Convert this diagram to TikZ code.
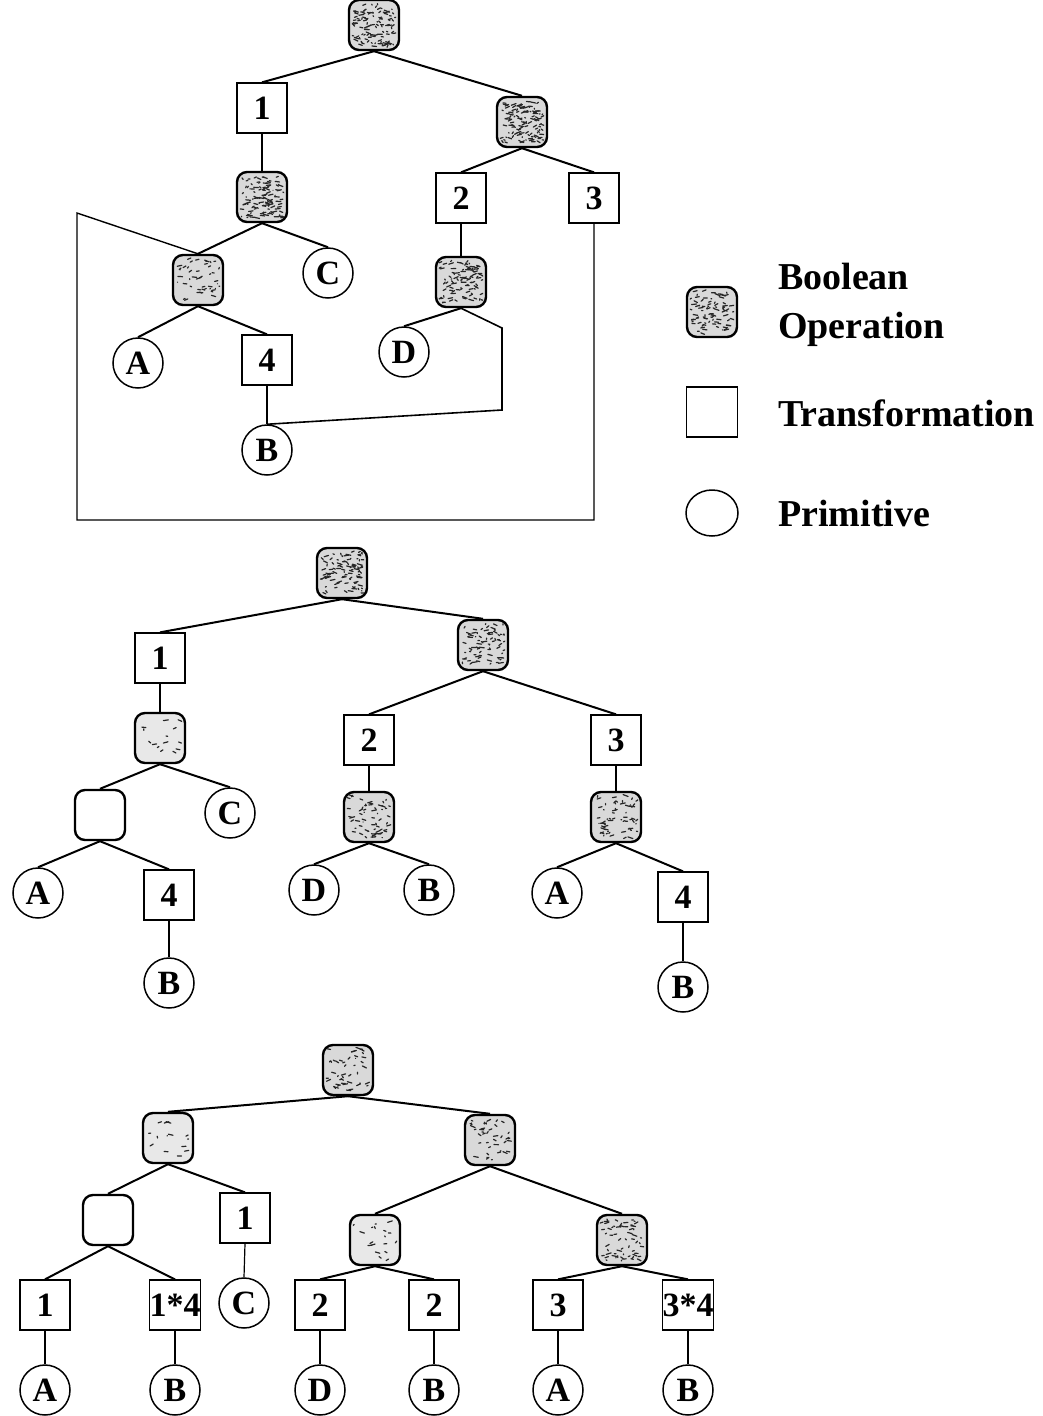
\documentclass[tikz,border=0pt]{standalone}
\usepackage{fontspec}
\setmainfont{Liberation Serif}
\usetikzlibrary{calc,shapes.geometric}

% stippled texture inside a boolean-operation box
\newcommand\speckle[2]{%
  \begin{scope}
    \clip ($(#1.south west)+(4pt,4pt)$) rectangle ($(#1.north east)+(-4pt,-4pt)$);
    \foreach \k in {1,...,#2}
      \draw[line width=1.2pt, black!85, line cap=round]
        ($(#1.center)+(rand*21pt,rand*21pt)$) -- ++(rand*5pt,rand*2pt);
  \end{scope}}

\tikzset{
  lbl/.style={font=\fontsize{34}{34}\selectfont\bfseries},
  boolop/.style={draw, line width=2.4pt, rounded corners=10pt, minimum width=50pt,
                 minimum height=50pt, inner sep=0pt, fill=gray!30},
  boolw/.style={boolop, fill=white},
  xform/.style={draw, line width=1.3pt, minimum width=50pt, minimum height=50pt,
                inner sep=0pt, lbl},
  prim/.style={draw, circle, line width=1.5pt, minimum size=50pt, inner sep=0pt, lbl},
  edge/.style={line width=2pt},
  stem/.style={line width=1.2pt},
  legendtext/.style={font=\fontsize{38}{49}\selectfont\bfseries, anchor=west, align=left, inner sep=0pt}
}

\begin{document}
\begin{tikzpicture}[x=1pt,y=-1pt]
\pgfmathsetseed{11}
\useasboundingbox (0,0) rectangle (1043,1416);

% ---------- first tree (shared subtrees) ----------
\node[boolop] (aR)  at (374,25)  {};
\node[xform]  (a1)  at (262,108) {1};
\node[boolop] (aB2) at (522,122) {};
\node[boolop] (aB3) at (262,197) {};
\node[xform]  (a2)  at (461,198) {2};
\node[xform]  (a3)  at (594,198) {3};
\node[boolop] (aB4) at (198,280) {};
\node[prim]   (aC)  at (328,273) {C};
\node[boolop] (aB5) at (461,282) {};
\node[prim]   (aA)  at (138,363) {A};
\node[xform]  (a4)  at (267,360) {4};
\node[prim]   (aD)  at (404,352) {D};
\node[prim]   (aBp) at (267,450) {B};
\coordinate (k1) at (502,328);
\coordinate (k2) at (502,410);
\coordinate (m1) at (594,520);
\coordinate (m2) at (77,520);
\coordinate (m3) at (77,213);

\speckle{aR}{110}\speckle{aB2}{120}\speckle{aB3}{110}\speckle{aB4}{45}\speckle{aB5}{95}

\draw[edge] (aR.south) -- (a1.north);
\draw[edge] (aR.south) -- (aB2.north);
\draw[stem] (a1.south) -- (aB3.north);
\draw[edge] (aB2.south) -- (a2.north);
\draw[edge] (aB2.south) -- (a3.north);
\draw[stem] (a2.south) -- (aB5.north);
\draw[edge] (aB3.south) -- (aB4.north);
\draw[edge] (aB3.south) -- (aC.north);
\draw[edge] (aB4.south) -- (aA.north);
\draw[edge] (aB4.south) -- (a4.north);
\draw[stem] (a4.south) -- (aBp.north);
\draw[edge] (aB5.south) -- (aD.north);
\draw[line width=1.6pt] (aB5.south) -- (k1) -- (k2) -- (aBp.north);
\draw[line width=1.4pt] (a3.south) -- (m1) -- (m2) -- (m3) -- (aB4.north);

% ---------- legend ----------
\node[boolop] (lgB) at (712,312) {};
\speckle{lgB}{85}
\node[legendtext] (lgBt) at (778,305) {Boolean\\Operation};
\node[draw, line width=1.3pt, minimum width=51pt, minimum height=50pt, inner sep=0pt] (lgT) at (712,412) {};
\node[legendtext] (lgTt) at (778,413) {Transformation};
\node[draw, ellipse, line width=1.5pt, minimum width=52pt, minimum height=46pt, inner sep=0pt] (lgP) at (712,513) {};
\node[legendtext] (lgPt) at (778,513) {Primitive};

% ---------- second tree (copied subtrees) ----------
\node[boolop] (bR)  at (342,573) {};
\node[xform]  (b1)  at (160,658) {1};
\node[boolop] (bB2) at (483,645) {};
\node[boolop, fill=gray!18] (bB3) at (160,738) {};
\node[xform]  (b2)  at (369,740) {2};
\node[xform]  (b3)  at (616,740) {3};
\node[boolw]  (bW)  at (100,815) {};
\node[prim]   (bC)  at (230,813) {C};
\node[boolop] (bB5) at (369,817) {};
\node[boolop] (bB6) at (616,817) {};
\node[prim]   (bA)  at (38,893)  {A};
\node[xform]  (b4)  at (169,895) {4};
\node[prim]   (bD)  at (314,890) {D};
\node[prim]   (bBq) at (429,890) {B};
\node[prim]   (bA2) at (557,893) {A};
\node[xform]  (b4b) at (683,897) {4};
\node[prim]   (bBb) at (169,983) {B};
\node[prim]   (bBc) at (683,987) {B};

\speckle{bR}{95}\speckle{bB2}{75}\speckle{bB3}{14}\speckle{bB5}{60}\speckle{bB6}{60}

\draw[edge] (bR.south) -- (b1.north);
\draw[edge] (bR.south) -- (bB2.north);
\draw[stem] (b1.south) -- (bB3.north);
\draw[edge] (bB2.south) -- (b2.north);
\draw[edge] (bB2.south) -- (b3.north);
\draw[edge] (bB3.south) -- (bW.north);
\draw[edge] (bB3.south) -- (bC.north);
\draw[stem] (b2.south) -- (bB5.north);
\draw[stem] (b3.south) -- (bB6.north);
\draw[edge] (bW.south) -- (bA.north);
\draw[edge] (bW.south) -- (b4.north);
\draw[edge] (bB5.south) -- (bD.north);
\draw[edge] (bB5.south) -- (bBq.north);
\draw[edge] (bB6.south) -- (bA2.north);
\draw[edge] (bB6.south) -- (b4b.north);
\draw[stem] (b4.south) -- (bBb.north);
\draw[stem] (b4b.south) -- (bBc.north);

% ---------- third tree (transformations pushed to the leaves) ----------
\node[boolop] (cR)  at (348,1070) {};
\node[boolop, fill=gray!18] (cL)  at (168,1138) {};
\node[boolop] (cRb) at (490,1140) {};
\node[boolw]  (cW)  at (108,1220) {};
\node[xform]  (c1)  at (245,1218) {1};
\node[boolop, fill=gray!18] (cL2) at (375,1240) {};
\node[boolop] (cD2) at (622,1240) {};
\node[xform]  (c1a) at (45,1305)  {1};
\node[xform]  (c14) at (175,1305) {1*4};
\node[prim]   (cC)  at (244,1303) {C};
\node[xform]  (c2a) at (320,1305) {2};
\node[xform]  (c2b) at (434,1305) {2};
\node[xform]  (c3a) at (558,1305) {3};
\node[xform]  (c34) at (688,1305) {3*4};
\node[prim]   (cA)  at (45,1390)  {A};
\node[prim]   (cB)  at (175,1390) {B};
\node[prim]   (cD)  at (320,1390) {D};
\node[prim]   (cB2) at (434,1390) {B};
\node[prim]   (cA2) at (558,1390) {A};
\node[prim]   (cB3) at (688,1390) {B};

\speckle{cR}{45}\speckle{cL}{14}\speckle{cRb}{40}\speckle{cL2}{18}\speckle{cD2}{60}

\draw[edge] (cR.south) -- (cL.north);
\draw[edge] (cR.south) -- (cRb.north);
\draw[edge] (cL.south) -- (cW.north);
\draw[edge] (cL.south) -- (c1.north);
\draw[edge] (cW.south) -- (c1a.north);
\draw[edge] (cW.south) -- (c14.north);
\draw[stem] (c1.south) -- (cC.north);
\draw[edge] (cRb.south) -- (cL2.north);
\draw[edge] (cRb.south) -- (cD2.north);
\draw[edge] (cL2.south) -- (c2a.north);
\draw[edge] (cL2.south) -- (c2b.north);
\draw[edge] (cD2.south) -- (c3a.north);
\draw[edge] (cD2.south) -- (c34.north);
\draw[stem] (c1a.south) -- (cA.north);
\draw[stem] (c14.south) -- (cB.north);
\draw[stem] (c2a.south) -- (cD.north);
\draw[stem] (c2b.south) -- (cB2.north);
\draw[stem] (c3a.south) -- (cA2.north);
\draw[stem] (c34.south) -- (cB3.north);
\end{tikzpicture}
\end{document}
